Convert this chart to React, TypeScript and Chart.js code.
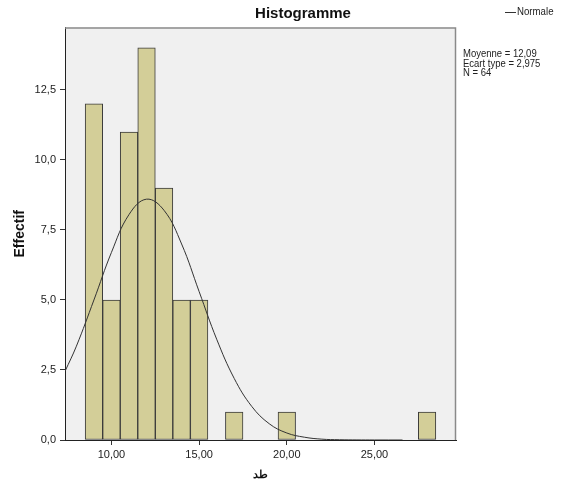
import React, { useEffect, useRef } from "react";
import { Chart, registerables } from "chart.js";

Chart.register(...registerables);

// ---- data ----
const chartTitle = "Histogramme";
const xAxisTitle = "طد";
const yAxisTitle = "Effectif";
const legendLabel = "Normale";
const statsLines = ["Moyenne = 12,09", "Ecart type = 2,975", "N = 64"];

const binCenters = [9, 10, 11, 12, 13, 14, 15, 17, 20, 28];
const binCounts = [12, 5, 11, 14, 9, 5, 5, 1, 1, 1];

const curveX = [7.35, 8, 9, 10, 11, 12, 13, 14, 15, 16, 17, 18, 19, 20, 21, 22, 23, 24, 25, 26.6];
const curveY = [2.45, 3.35, 5.0, 6.7, 8.05, 8.6, 8.2, 7.0, 5.3, 3.6, 2.2, 1.2, 0.58, 0.25, 0.1, 0.03, 0.01, 0.003, 0.001, 0];

const xTickValues = [10, 15, 20, 25];
const yTickValues = [0, 2.5, 5, 7.5, 10, 12.5];
const xRange = [7.35, 29.65];
const yRange = [0, 14.73];

const FONT = "'Liberation Sans', Arial, Helvetica, sans-serif";

const plotDecor = {
  id: "plotDecor",
  beforeDraw(chart: any) {
    const { ctx, chartArea, width, height } = chart;
    ctx.save();
    ctx.fillStyle = "#ffffff";
    ctx.fillRect(0, 0, width, height);
    ctx.fillStyle = "#f0f0f0";
    ctx.fillRect(chartArea.left, chartArea.top, chartArea.right - chartArea.left, chartArea.bottom - chartArea.top);
    ctx.restore();
  },
  afterLayout(chart: any) {
    const tb = chart.titleBlock;
    if (tb) {
      tb.left = 38;
      tb.right = chart.width;
    }
  },
  afterDraw(chart: any) {
    const { ctx, chartArea } = chart;
    ctx.save();
    // top and right frame
    ctx.strokeStyle = "#8a8a8a";
    ctx.lineWidth = 1.5;
    ctx.beginPath();
    ctx.moveTo(chartArea.left, chartArea.top + 0.5);
    ctx.lineTo(chartArea.right - 0.5, chartArea.top + 0.5);
    ctx.lineTo(chartArea.right - 0.5, chartArea.bottom);
    ctx.stroke();

    // legend
    const lx = chartArea.right + 49;
    const ly = 12.5;
    ctx.strokeStyle = "#333333";
    ctx.lineWidth = 1;
    ctx.beginPath();
    ctx.moveTo(lx, ly);
    ctx.lineTo(lx + 11, ly);
    ctx.stroke();
    ctx.fillStyle = "#222222";
    ctx.textBaseline = "middle";
    ctx.textAlign = "left";
    ctx.save();
    ctx.translate(lx + 12, ly);
    ctx.scale(0.92, 1);
    ctx.font = `10.5px ${FONT}`;
    ctx.fillText(legendLabel, 0, 0);
    ctx.restore();

    // statistics
    ctx.save();
    ctx.translate(chartArea.right + 7, 0);
    ctx.scale(0.88, 1);
    ctx.font = `10.8px ${FONT}`;
    statsLines.forEach((t, i) => {
      ctx.fillText(t, 0, 54.5 + i * 9.4);
    });
    ctx.restore();
    ctx.restore();
  },
};

export default function App() {
  const canvasRef = useRef<HTMLCanvasElement | null>(null);

  useEffect(() => {
    const canvas = canvasRef.current;
    if (!canvas) return;
    const chart = new Chart(canvas, {
      type: "bar",
      data: {
        datasets: [
          {
            type: "line",
            label: legendLabel,
            data: curveX.map((x, i) => ({ x, y: curveY[i] })),
            borderColor: "#333333",
            borderWidth: 1,
            pointRadius: 0,
            tension: 0.4,
            fill: false,
            order: 0,
          } as any,
          {
            type: "bar",
            label: "Effectif",
            data: binCenters.map((x, i) => ({ x, y: binCounts[i] })),
            backgroundColor: "#d3ce98",
            borderColor: "#3a3a3a",
            borderWidth: 1,
            borderSkipped: false,
            barPercentage: 1,
            categoryPercentage: 1,
            order: 1,
          } as any,
        ],
      },
      options: {
        animation: false,
        responsive: false,
        devicePixelRatio: 1,
        layout: { padding: { left: 0, right: 112, top: 0, bottom: 0 } },
        plugins: {
          legend: { display: false },
          tooltip: { enabled: false },
          title: {
            display: true,
            text: chartTitle,
            color: "#111111",
            font: { family: FONT, size: 15, weight: "bold" },
            padding: { top: 5, bottom: 4.5 },
          },
        },
        scales: {
          x: {
            type: "linear",
            min: xRange[0],
            max: xRange[1],
            offset: false,
            afterFit: (s: any) => {
              s.height = 48;
            },
            afterBuildTicks: (s: any) => {
              s.ticks = xTickValues.map((v) => ({ value: v }));
            },
            ticks: {
              color: "#222222",
              font: { family: FONT, size: 11 },
              padding: 3,
              maxRotation: 0,
              callback: (v: any) => Number(v).toFixed(2).replace(".", ","),
            },
            grid: { display: true, offset: false, drawOnChartArea: false, drawTicks: true, tickLength: 5, color: "#333333" },
            border: { display: true, color: "#222222", width: 1 },
            title: {
              display: true,
              text: xAxisTitle,
              color: "#111111",
              font: { family: FONT, size: 11, weight: "bold" },
              padding: { top: 0, bottom: 6 },
            },
          },
          y: {
            type: "linear",
            min: yRange[0],
            max: yRange[1],
            afterFit: (s: any) => {
              s.width = 65;
            },
            afterBuildTicks: (s: any) => {
              s.ticks = yTickValues.map((v) => ({ value: v }));
            },
            ticks: {
              color: "#222222",
              font: { family: FONT, size: 11 },
              padding: 4,
              callback: (v: any) => Number(v).toFixed(1).replace(".", ","),
            },
            grid: { display: true, drawOnChartArea: false, drawTicks: true, tickLength: 5, color: "#333333" },
            border: { display: true, color: "#222222", width: 1 },
            title: {
              display: true,
              text: yAxisTitle,
              color: "#111111",
              font: { family: FONT, size: 14, weight: "bold" },
              padding: { top: 11.5, bottom: 0 },
            },
          },
        },
      },
      plugins: [plotDecor],
    });
    return () => chart.destroy();
  }, []);

  return (
    <div style={{ position: "absolute", left: 0, top: 0, width: 568, height: 488, background: "#ffffff" }}>
      <canvas ref={canvasRef} width={568} height={488} style={{ display: "block", width: 568, height: 488 }} />
    </div>
  );
}
